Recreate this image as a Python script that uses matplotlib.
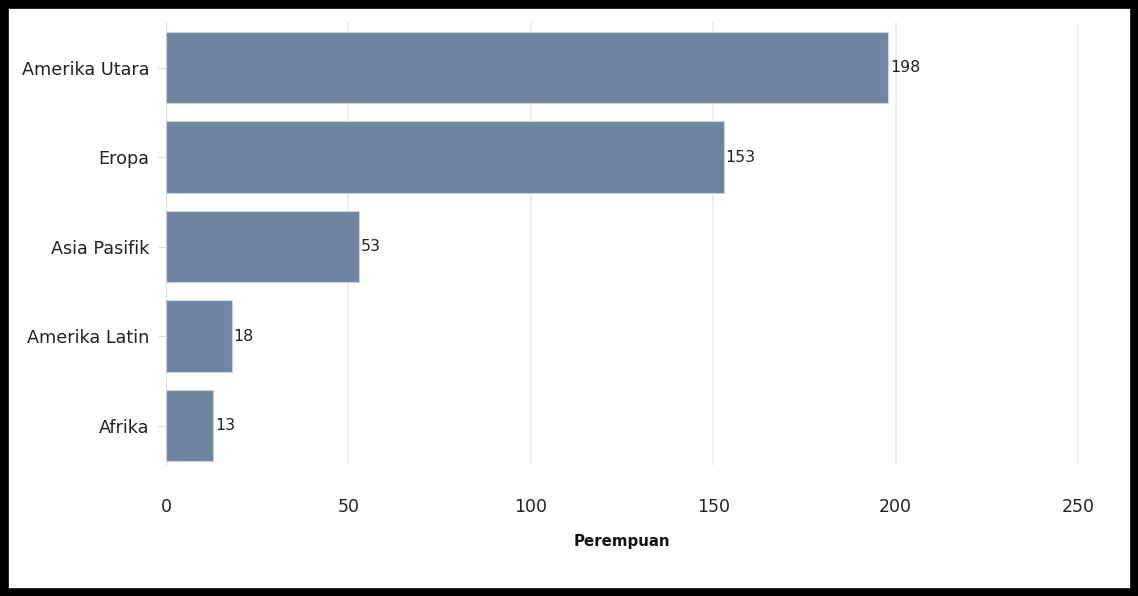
import matplotlib.pyplot as plt
from matplotlib.patches import Rectangle

regions = ["Amerika Utara", "Eropa", "Asia Pasifik", "Amerika Latin", "Afrika"]
values = [198, 153, 53, 18, 13]
x_ticks = [0, 50, 100, 150, 200, 250]

bar_color = "#6f84a0"
plt.rcParams["font.family"] = ["DejaVu Sans"]

fig = plt.figure(figsize=(11.38, 5.96), dpi=100)
ax = fig.add_axes([166 / 1138, 1 - 465 / 596, 912 / 1138, 443 / 596])

ypos = list(range(len(regions)))
ax.barh(ypos, values, height=0.8, color=bar_color, edgecolor="#c9d2dd", linewidth=0.8, zorder=3)
for y, v in zip(ypos, values):
    ax.text(v + 0.4, y, str(v), va="center", ha="left", fontsize=11.3, color="#222222", zorder=4)

ax.set_xlim(0, 250)
ax.set_ylim(4.44, -0.51)
ax.set_xticks(x_ticks)
ax.set_yticks(ypos)
ax.set_yticklabels(regions, fontsize=12.7, color="#222222")
ax.tick_params(axis="x", length=0, labelsize=12.5, pad=24, labelcolor="#222222")
ax.tick_params(axis="y", length=6, color="#dddddd", pad=6)
ax.grid(axis="x", color="#ebebeb", linewidth=1.2, zorder=0)
for s in ["top", "right", "bottom"]:
    ax.spines[s].set_visible(False)
ax.spines["left"].set_color("#dddddd")
ax.set_xlabel("Perempuan", fontsize=10.8, fontweight="bold", labelpad=13, color="#111111")

# black frame round the picture
fig.patches.append(Rectangle((0, 0), 1, 1, transform=fig.transFigure, fill=False,
                             edgecolor="black", linewidth=12, zorder=10))

fig.savefig("out.png", dpi=100)
